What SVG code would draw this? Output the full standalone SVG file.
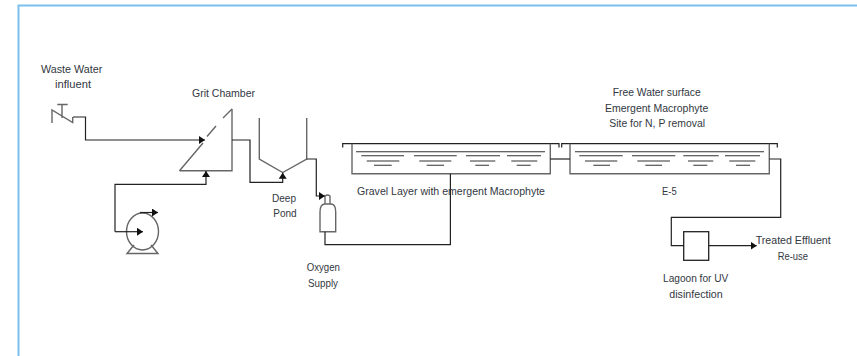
<svg xmlns="http://www.w3.org/2000/svg" width="857" height="356" viewBox="0 0 857 356">
<style>
.l{fill:none;stroke:#222;stroke-width:1.2}
.g{fill:none;stroke:#666;stroke-width:1.4}
.w{fill:none;stroke:#333;stroke-width:1.1}
text{font-family:"Liberation Sans",Arial,sans-serif;font-size:11.5px;fill:#33383f}
</style>
<defs>
<marker id="a" markerUnits="userSpaceOnUse" markerWidth="7" markerHeight="8" refX="6" refY="4" orient="auto"><path d="M0,0L6,4L0,8z" fill="#111"/></marker>
</defs>
<rect width="857" height="356" fill="#fff"/>
<path id="frame" d="M18.5,356V5.5H857" fill="none" stroke="#7cc0ee" stroke-width="2"/>
<g id="valve"><path class="g" d="M52,123V110L72.7,122.5V117M62,118V104.5M57.3,104.5H67.7"/></g>
<g id="grit-chamber"><path class="g" d="M232,109V170.7H179.5"/><path class="g" d="M179.5,170.7L203,143M207,136.5L216,126M223,118L232,109"/></g>
<g id="pump"><ellipse class="g" cx="142.5" cy="231.5" rx="16" ry="18.5"/><path class="g" d="M134,245L127,253.5H158L151,245"/></g>
<g id="deep-pond"><path class="g" d="M259.3,118V159L282.7,172.5L306.7,159V118"/></g>
<g id="oxygen-cylinder"><path class="g" d="M320,231.7V212Q320,204 325,204H331Q335.7,204 335.7,212V231.7ZM325,204V196Q327.5,194 330,196V204" stroke-width="1.2"/></g>
<g id="tank-1"><path class="l" d="M342.7,147.5V143.7H559V147.5"/><path class="g" d="M352,143.7V173.7H550.3V143.7"/>
<path class="w" d="M356,151.7H545M361.3,155.7H404M414,155.7H456.7M466,155.7H500M507,155.7H541M366.7,161H399.3M419.3,161H451.3M470,161H495.3M511.3,161H537.3M374,165.3H391.7M426.7,165.3H444M475.3,165.3H489M516.7,165.3H530.7"/></g>
<g id="tank-2"><path class="l" d="M561.7,147.5V143.7H777.3V147.5"/><path class="g" d="M570,143.7V173.7H769.3V143.7"/>
<path class="w" d="M575,151.7H764M579.3,155.7H622.7M632,155.7H675.3M683.3,155.7H718.7M725,155.7H760M585,161H617.3M637.3,161H670M688,161H713.3M729.3,161H755.3M593.3,165.3H610M645.3,165.3H662M693.3,165.3H707.3M736,165.3H750"/></g>
<g id="lagoon"><rect x="683.7" y="231.7" width="25" height="28.6" fill="none" stroke="#222" stroke-width="1.3"/></g>
<g id="connectors">
<path class="l" d="M73,117H85.5V140H205" marker-end="url(#a)"/>
<path class="l" d="M115,231.7H143" marker-end="url(#a)"/>
<path class="l" d="M115,231.7V184.3H206V171" marker-end="url(#a)"/>
<path class="l" d="M140,212.5H158" marker-end="url(#a)"/>
<path class="l" d="M232,140H250V182.3H282.7V172.8" marker-end="url(#a)"/>
<path class="l" d="M306.7,159H316.3V196H325" marker-end="url(#a)"/>
<path class="l" d="M325,231.7V244.7H450.4V173.7"/>
<path class="l" d="M550.3,159H570"/>
<path class="l" d="M769.3,159H780.7V217.3H671.3V245.7H683.7"/>
<path class="l" d="M708.7,245.7H756.7" marker-end="url(#a)"/>
</g>
<g id="labels">
<text x="41" y="72.7" textLength="61.3" lengthAdjust="spacingAndGlyphs">Waste Water</text>
<text x="55" y="88" textLength="36" lengthAdjust="spacingAndGlyphs">influent</text>
<text x="192" y="97" textLength="63" lengthAdjust="spacingAndGlyphs">Grit Chamber</text>
<text x="272" y="202" textLength="24" lengthAdjust="spacingAndGlyphs">Deep</text>
<text x="273.3" y="217" textLength="23.4" lengthAdjust="spacingAndGlyphs">Pond</text>
<text x="306.7" y="271" textLength="33.3" lengthAdjust="spacingAndGlyphs">Oxygen</text>
<text x="308" y="286.7" textLength="30" lengthAdjust="spacingAndGlyphs">Supply</text>
<text x="357" y="194.7" textLength="188" lengthAdjust="spacingAndGlyphs">Gravel Layer with emergent Macrophyte</text>
<text x="662" y="194.7" textLength="14.7" lengthAdjust="spacingAndGlyphs">E-5</text>
<text x="612.7" y="95.7" textLength="88" lengthAdjust="spacingAndGlyphs">Free Water surface</text>
<text x="605" y="111.7" textLength="103.3" lengthAdjust="spacingAndGlyphs">Emergent Macrophyte</text>
<text x="609.3" y="126.7" textLength="95.7" lengthAdjust="spacingAndGlyphs">Site for N, P removal</text>
<text x="755.7" y="243.7" textLength="75" lengthAdjust="spacingAndGlyphs">Treated Effluent</text>
<text x="777.7" y="260" textLength="30.3" lengthAdjust="spacingAndGlyphs">Re-use</text>
<text x="663" y="281.7" textLength="65.3" lengthAdjust="spacingAndGlyphs">Lagoon for UV</text>
<text x="669.3" y="297.7" textLength="53.4" lengthAdjust="spacingAndGlyphs">disinfection</text>
</g>
</svg>
